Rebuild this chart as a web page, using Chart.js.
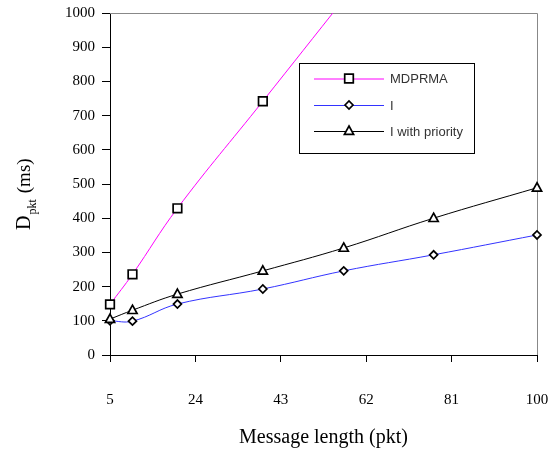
<!DOCTYPE html>
<html>
<head>
<meta charset="utf-8">
<script src="https://cdn.jsdelivr.net/npm/chart.js@4"></script>
<style>
  html, body { margin: 0; padding: 0; background: #fff; }
  canvas { display: block; }
</style>
</head>
<body>
<canvas id="chart" width="551" height="451"></canvas>
<script>
// Values
const msgLength = [5, 10, 20, 39, 57, 77, 100];
const mdprma = [148, 236, 429, 742, 1040, 1370, 1750];
const plainI = [100, 99, 149, 193, 246, 293, 351];
const iPriority = [105, 131, 178, 246, 313, 400, 489];
const seriesNames = ['MDPRMA', 'I', 'I with priority'];
const yTitle = ['D', 'pkt', '(ms)'];
const xTitle = 'Message length (pkt)';

const SERIF = '"Liberation Serif", "Times New Roman", serif';
const SANS = '"Liberation Sans", Arial, sans-serif';

const pts = (ys) => msgLength.map((x, i) => ({ x, y: ys[i] }));

// marker shapes, shared by plot and legend
function drawMarker(ctx, style, x, y) {
  ctx.save();
  ctx.beginPath();
  if (style === 'rect') {
    ctx.rect(x - 4.3, y - 4.3, 8.6, 8.6);
  } else if (style === 'rectRot') {
    ctx.moveTo(x - 4, y); ctx.lineTo(x, y - 4); ctx.lineTo(x + 4, y); ctx.lineTo(x, y + 4);
    ctx.closePath();
  } else {
    ctx.moveTo(x, y - 5); ctx.lineTo(x + 4.6, y + 3.3); ctx.lineTo(x - 4.6, y + 3.3);
    ctx.closePath();
  }
  ctx.fillStyle = '#fff';
  ctx.fill();
  ctx.lineWidth = 1.7;
  ctx.strokeStyle = '#000';
  ctx.stroke();
  ctx.restore();
}

const decorations = {
  id: 'decorations',
  beforeDatasetsDraw(chart) {
    const { ctx, chartArea: a } = chart;
    // gray frame on top and right
    ctx.save();
    ctx.strokeStyle = '#888';
    ctx.lineWidth = 1;
    ctx.beginPath();
    ctx.moveTo(a.left, a.top + 0.5);
    ctx.lineTo(a.right + 0.5, a.top + 0.5);
    ctx.lineTo(a.right + 0.5, a.bottom);
    ctx.stroke();
    ctx.restore();
  },
  afterDraw(chart) {
    const { ctx, chartArea: a } = chart;
    ctx.save();
    // y title, rotated, with subscript
    ctx.translate(30, 230);
    ctx.rotate(-Math.PI / 2);
    ctx.fillStyle = '#000';
    ctx.textBaseline = 'alphabetic';
    ctx.font = '20px ' + SERIF;
    ctx.fillText(yTitle[0], 0, 0);
    let off = ctx.measureText(yTitle[0]).width + 1;
    ctx.font = '12px ' + SERIF;
    ctx.fillText(yTitle[1], off, 6);
    off += ctx.measureText(yTitle[1]).width + 6;
    ctx.font = '19px ' + SERIF;
    ctx.fillText(yTitle[2], off, 0);
    ctx.restore();

    // x title
    ctx.save();
    ctx.font = '20px ' + SERIF;
    ctx.fillStyle = '#000';
    ctx.textAlign = 'center';
    ctx.textBaseline = 'alphabetic';
    ctx.fillText(xTitle, (a.left + a.right) / 2, 443);
    ctx.restore();

    // legend box
    ctx.save();
    ctx.fillStyle = '#fff';
    ctx.fillRect(299.5, 63.5, 175, 90);
    ctx.strokeStyle = '#000';
    ctx.lineWidth = 1;
    ctx.strokeRect(299.5, 63.5, 175, 90);
    const rows = [78.5, 105, 131];
    chart.data.datasets.forEach((ds, i) => {
      const y = rows[i];
      ctx.strokeStyle = ds.borderColor;
      ctx.lineWidth = 1;
      ctx.beginPath();
      ctx.moveTo(314, y + 0.5);
      ctx.lineTo(384, y + 0.5);
      ctx.stroke();
      drawMarker(ctx, ds.pointStyle, 349, y);
      ctx.fillStyle = '#333';
      ctx.font = '13px ' + SANS;
      ctx.textBaseline = 'middle';
      ctx.textAlign = 'left';
      ctx.fillText(ds.label, 390, y + 1);
    });
    ctx.restore();
  }
};

const markerPlugin = {
  id: 'markers',
  afterDatasetsDraw(chart) {
    const ctx = chart.ctx;
    const a = chart.chartArea;
    chart.data.datasets.forEach((ds, i) => {
      const meta = chart.getDatasetMeta(i);
      meta.data.forEach((p) => {
        if (p.y < a.top - 1) return;
        drawMarker(ctx, ds.pointStyle, p.x, p.y);
      });
    });
  }
};

new Chart(document.getElementById('chart'), {
  type: 'line',
  data: {
    datasets: [
      { label: seriesNames[0], data: pts(mdprma), borderColor: '#ff00ff', pointStyle: 'rect',
        clip: { left: 10, right: 10, top: 0, bottom: 10 } },
      { label: seriesNames[1], data: pts(plainI), borderColor: '#3333ff', pointStyle: 'rectRot', clip: false },
      { label: seriesNames[2], data: pts(iPriority), borderColor: '#000000', pointStyle: 'triangle', clip: false }
    ].map(d => Object.assign(d, { borderWidth: 1, tension: 0.4, pointRadius: 0, fill: false }))
  },
  options: {
    responsive: false,
    devicePixelRatio: 1,
    animation: false,
    layout: { padding: { top: 13, right: 14, left: 0, bottom: 0 } },
    plugins: { legend: { display: false }, tooltip: { enabled: false } },
    scales: {
      x: {
        type: 'linear', min: 5, max: 100,
        ticks: { stepSize: 19, padding: 29, color: '#000', font: { family: SERIF, size: 15 },
          callback: (v) => String(v) },
        grid: { drawOnChartArea: false, drawTicks: true, tickLength: 7, color: '#000' },
        border: { color: '#000', width: 1 },
        afterFit(s) { s.height = 96; s.paddingLeft = 0; s.paddingRight = 0; }
      },
      y: {
        min: 0, max: 1000,
        ticks: { stepSize: 100, padding: 7, color: '#000', font: { family: SERIF, size: 15 },
          callback: (v) => String(v) },
        grid: { drawOnChartArea: false, drawTicks: true, tickLength: 8, color: '#000' },
        border: { color: '#000', width: 1 },
        afterFit(s) { s.width = 110; s.paddingTop = 0; s.paddingBottom = 0; }
      }
    }
  },
  plugins: [decorations, markerPlugin]
});
</script>
</body>
</html>
